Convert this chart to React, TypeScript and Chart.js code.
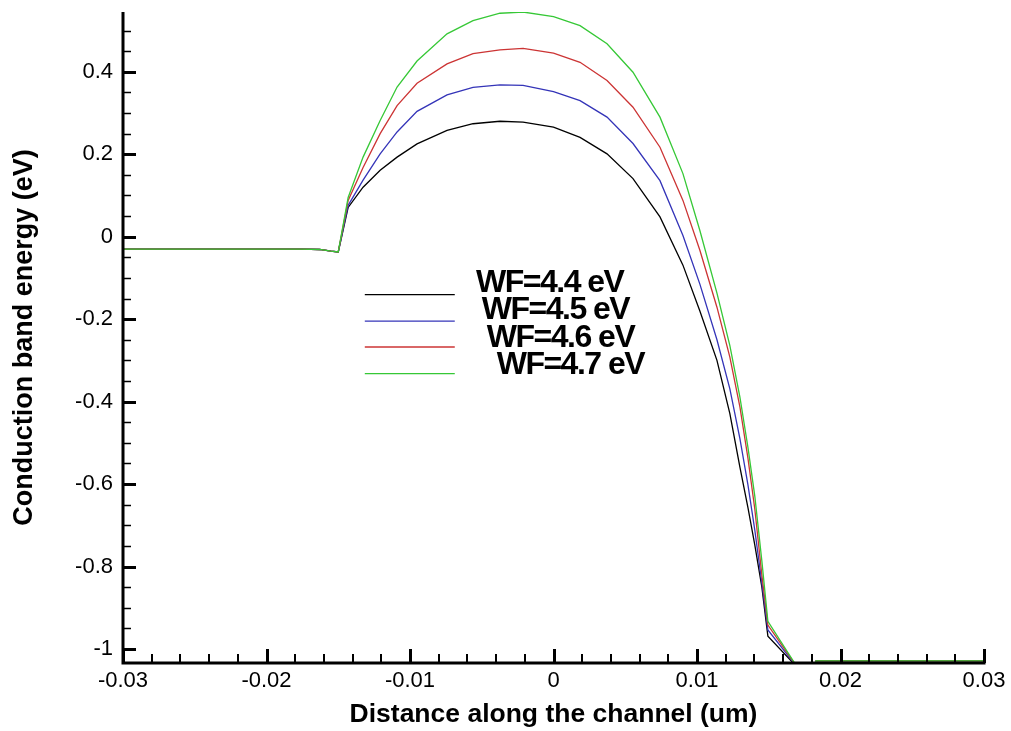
import React, { useEffect, useRef } from "react";
import { Chart, registerables } from "chart.js";

Chart.register(...registerables);

// Distance along the channel (um)
const xValues = [
  -0.03, -0.0175, -0.0163, -0.0155, -0.015, -0.01431, -0.01327, -0.01208, -0.0109, -0.00951,
  -0.00742, -0.00561, -0.00373, -0.00212, 0.0, 0.00185, 0.00373, 0.00554, 0.00742, 0.00902,
  0.0102, 0.01139, 0.01229, 0.01299, 0.01355, 0.01403, 0.01452, 0.01494, 0.017, 0.0181,
  0.0183, 0.03,
];

// Conduction band energy (eV) for each work function
const wf44 = [
  -0.03, -0.03, -0.031, -0.035, -0.037, 0.071, 0.12, 0.161, 0.193, 0.225,
  0.258, 0.274, 0.28, 0.278, 0.266, 0.241, 0.201, 0.141, 0.048, -0.069,
  -0.18, -0.3, -0.429, -0.559, -0.657, -0.748, -0.85, -0.969, -1.045, -1.045,
  -1.029, -1.029,
];
const wf45 = [
  -0.03, -0.03, -0.031, -0.035, -0.037, 0.076, 0.137, 0.201, 0.254, 0.304,
  0.344, 0.362, 0.368, 0.367, 0.352, 0.33, 0.29, 0.226, 0.136, 0.003,
  -0.115, -0.25, -0.369, -0.49, -0.602, -0.712, -0.84, -0.954, -1.045, -1.045,
  -1.029, -1.029,
];
const wf46 = [
  -0.03, -0.03, -0.031, -0.035, -0.037, 0.088, 0.168, 0.25, 0.318, 0.372,
  0.419, 0.444, 0.453, 0.457, 0.445, 0.423, 0.379, 0.314, 0.217, 0.088,
  -0.033, -0.171, -0.292, -0.413, -0.537, -0.661, -0.821, -0.942, -1.045, -1.045,
  -1.029, -1.029,
];
const wf47 = [
  -0.03, -0.03, -0.031, -0.035, -0.037, 0.095, 0.193, 0.282, 0.363, 0.426,
  0.492, 0.524, 0.542, 0.545, 0.534, 0.512, 0.468, 0.399, 0.29, 0.153,
  0.015, -0.137, -0.264, -0.389, -0.511, -0.63, -0.787, -0.933, -1.045, -1.045,
  -1.029, -1.029,
];

const seriesLabels = ["WF=4.4 eV", "WF=4.5 eV", "WF=4.6 eV", "WF=4.7 eV"];
const seriesColors = ["#000000", "#3434b8", "#cc3434", "#36c836"];

const xTickValues = [-0.03, -0.02, -0.01, 0, 0.01, 0.02, 0.03];
const xTickLabels = ["-0.03", "-0.02", "-0.01", "0", "0.01", "0.02", "0.03"];
const yTickValues = [-1, -0.8, -0.6, -0.4, -0.2, 0, 0.2, 0.4];
const yTickLabels = ["-1", "-0.8", "-0.6", "-0.4", "-0.2", "0", "0.2", "0.4"];

const FONT = '"Liberation Sans", Arial, Helvetica, sans-serif';

// legend placement in data coordinates
const legendLineX = [-0.01315, -0.00688];
const legendLineY = [-0.1406, -0.2046, -0.2676, -0.3321];
const legendTextX = [-0.0054, -0.005, -0.00465, -0.00396];
const legendTextY = [-0.1343, -0.1988, -0.2676, -0.3321];

const decorPlugin = {
  id: "decor",
  afterDatasetsDraw(chart: any) {
    const { ctx, chartArea: a } = chart;
    const xs = chart.scales.x;
    const ys = chart.scales.y;
    ctx.save();
    ctx.strokeStyle = "#000";
    ctx.lineCap = "butt";

    // minor y ticks
    ctx.lineWidth = 1.5;
    ctx.beginPath();
    for (let k = -20; k <= 10; k++) {
      if (k % 4 === 0) continue;
      const v = k * 0.05;
      if (v < ys.min || v > ys.max) continue;
      const p = Math.round(ys.getPixelForValue(v)) + 0.5;
      ctx.moveTo(a.left, p);
      ctx.lineTo(a.left + 8, p);
    }
    ctx.stroke();

    // minor x ticks
    ctx.lineWidth = 2;
    ctx.beginPath();
    for (let k = -15; k <= 15; k++) {
      if (k % 5 === 0) continue;
      const v = k * 0.002;
      const p = Math.round(xs.getPixelForValue(v));
      ctx.moveTo(p, a.bottom);
      ctx.lineTo(p, a.bottom - 9);
    }
    ctx.stroke();

    // major ticks
    ctx.lineWidth = 3;
    ctx.beginPath();
    yTickValues.forEach((v) => {
      const p = Math.round(ys.getPixelForValue(v)) + 0.5;
      ctx.moveTo(a.left, p);
      ctx.lineTo(a.left + 13, p);
    });
    xTickValues.forEach((v) => {
      const p = Math.round(xs.getPixelForValue(v)) + 0.5;
      ctx.moveTo(p, a.bottom);
      ctx.lineTo(p, a.bottom - 14);
    });
    ctx.stroke();

    // axis lines
    ctx.lineWidth = 3;
    ctx.lineJoin = "miter";
    ctx.beginPath();
    ctx.moveTo(a.left, a.top);
    ctx.lineTo(a.left, a.bottom);
    ctx.lineTo(a.right + 1.5, a.bottom);
    ctx.stroke();

    // legend
    const x0 = xs.getPixelForValue(legendLineX[0]);
    const x1 = xs.getPixelForValue(legendLineX[1]);
    chart.data.datasets.forEach((ds: any, i: number) => {
      const py = ys.getPixelForValue(legendLineY[i]);
      ctx.strokeStyle = ds.borderColor;
      ctx.lineWidth = 1.3;
      ctx.beginPath();
      ctx.moveTo(x0, py);
      ctx.lineTo(x1, py);
      ctx.stroke();
    });
    ctx.fillStyle = "#000";
    ctx.font = "bold 32px " + FONT;
    ctx.textAlign = "left";
    ctx.textBaseline = "alphabetic";
    try {
      (ctx as any).letterSpacing = "-1.5px";
    } catch (e) {}
    chart.data.datasets.forEach((ds: any, i: number) => {
      ctx.fillText(ds.label, xs.getPixelForValue(legendTextX[i]), ys.getPixelForValue(legendTextY[i]));
    });
    try {
      (ctx as any).letterSpacing = "0px";
    } catch (e) {}
    ctx.restore();
  },
};

export default function App() {
  const ref = useRef<HTMLCanvasElement | null>(null);

  useEffect(() => {
    if (!ref.current) return;
    Chart.defaults.font.family = FONT;
    const series = [wf44, wf45, wf46, wf47];
    const chart = new Chart(ref.current, {
      type: "line",
      data: {
        datasets: series.map((ys, i) => ({
          label: seriesLabels[i],
          data: xValues.map((x, j) => ({ x, y: ys[j] })),
          borderColor: seriesColors[i],
          backgroundColor: seriesColors[i],
          borderWidth: 1.3,
          pointRadius: 0,
          tension: 0,
          fill: false,
          order: 3 - i,
        })),
      },
      options: {
        animation: false,
        responsive: false,
        maintainAspectRatio: false,
        layout: { padding: { top: 12, right: 27, left: 0, bottom: 0 } },
        plugins: {
          legend: { display: false },
          tooltip: { enabled: false },
          title: { display: false },
        },
        scales: {
          x: {
            type: "linear",
            min: -0.03,
            max: 0.03,
            afterBuildTicks: (s: any) => {
              s.ticks = xTickValues.map((v) => ({ value: v }));
            },
            afterFit: (s: any) => {
              s.height = 68;
              s.paddingLeft = 0;
              s.paddingRight = 0;
            },
            ticks: {
              callback: (_v: any, i: number) => xTickLabels[i],
              font: { size: 22 },
              color: "#000",
              padding: 5,
              maxRotation: 0,
              autoSkip: false,
            },
            grid: { display: false, drawTicks: false },
            border: { display: false },
            title: {
              display: true,
              text: "Distance along the channel (um)",
              font: { size: 26.5, weight: "bold" },
              color: "#000",
              padding: { top: 0, bottom: 0 },
            },
          },
          y: {
            type: "linear",
            min: -1.034,
            max: 0.545,
            afterBuildTicks: (s: any) => {
              s.ticks = yTickValues.map((v) => ({ value: v }));
            },
            afterFit: (s: any) => {
              s.width = 123;
              s.paddingTop = 0;
              s.paddingBottom = 0;
            },
            ticks: {
              callback: (_v: any, i: number) => yTickLabels[i],
              font: { size: 22 },
              color: "#000",
              padding: 10,
              autoSkip: false,
            },
            grid: { display: false, drawTicks: false },
            border: { display: false },
            title: {
              display: true,
              text: "Conduction band energy (eV)",
              font: { size: 27, weight: "bold" },
              color: "#000",
              padding: { top: 8, bottom: 0 },
            },
          },
        },
      },
      plugins: [decorPlugin],
    } as any);
    return () => chart.destroy();
  }, []);

  return (
    <div style={{ position: "absolute", left: 0, top: 0, width: 1011, height: 731, background: "#fff" }}>
      <canvas ref={ref} width={1011} height={731} style={{ width: 1011, height: 731, display: "block" }} />
    </div>
  );
}
